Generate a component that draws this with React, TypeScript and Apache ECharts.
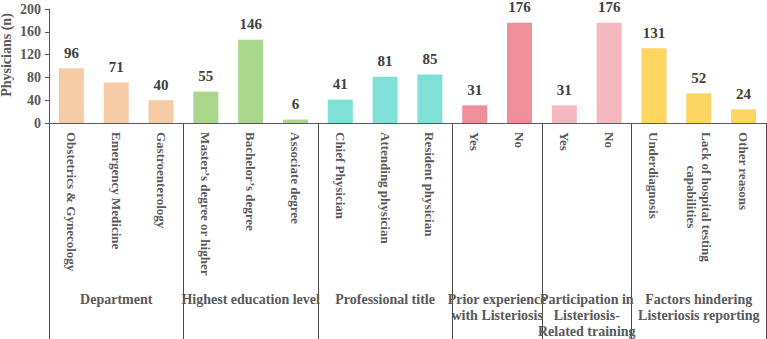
import React, { useEffect, useRef } from "react";
import * as echarts from "echarts";

const categories = [
  "Obstetrics & Gynecology",
  "Emergency Medicine",
  "Gastroenterology",
  "Master’s degree or higher",
  "Bachelor’s degree",
  "Associate degree",
  "Chief Physician",
  "Attending physician",
  "Resident physician",
  "Yes",
  "No",
  "Yes",
  "No",
  "Underdiagnosis",
  "Lack of hospital testing\ncapabilities",
  "Other reasons",
];
const values = [96, 71, 40, 55, 146, 6, 41, 81, 85, 31, 176, 31, 176, 131, 52, 24];
const groupNames = [
  "Department",
  "Highest education level",
  "Professional title",
  "Prior experience\nwith Listeriosis",
  "Participation in\nListeriosis-\nRelated training",
  "Factors hindering\nListeriosis reporting",
];
const groupSizes = [3, 3, 3, 2, 2, 3];
const groupColors = ["#F8CBA7", "#A9D78B", "#7FE0D6", "#EF8F9A", "#F4B8C1", "#FCD660"];
const yTicks = { min: 0, max: 200, interval: 40 };

const FONT = "'Times New Roman', 'Liberation Serif', serif";
const TEXT = "#595959";

export default function App() {
  const ref = useRef<HTMLDivElement>(null);
  useEffect(() => {
    if (!ref.current) return;
    const chart = echarts.init(ref.current, undefined, { renderer: "svg" });

    const boundaries: number[] = [];
    const centers: number[] = [];
    let acc = 0;
    const itemColors: string[] = [];
    groupSizes.forEach((n, gi) => {
      boundaries.push(acc);
      centers.push(acc + n / 2);
      for (let k = 0; k < n; k++) itemColors.push(groupColors[gi]);
      acc += n;
    });

    chart.setOption({
      animation: false,
      grid: {
        left: 49,
        right: 1,
        top: 9,
        bottom: 216,
        containLabel: false,
        outerBoundsMode: "none",
      },
      xAxis: [
        {
          type: "category",
          data: categories,
          axisLine: { show: true, lineStyle: { color: TEXT, width: 1 } },
          axisTick: {
            show: true,
            length: 216,
            lineStyle: { color: "#4a4a4a", width: 1 },
            interval: (index: number) => boundaries.includes(index),
          },
          axisLabel: {
            interval: 0,
            rotate: -90,
            margin: 9,
            formatter: (v: string) =>
              v
                .split("\n")
                .map((l) => `{c|${l}}`)
                .join("\n"),
            rich: {
              c: {
                align: "center",
                fontFamily: FONT,
                fontSize: 13,
                fontWeight: "bold",
                color: TEXT,
                lineHeight: 15,
              },
            },
          },
        },
        {
          type: "value",
          min: 0,
          max: categories.length,
          interval: 0.5,
          position: "bottom",
          axisLine: { show: false },
          axisTick: { show: false },
          splitLine: { show: false },
          axisLabel: {
            margin: 168,
            fontFamily: FONT,
            fontSize: 14,
            fontWeight: "bold",
            color: TEXT,
            lineHeight: 16,
            showMinLabel: true,
            showMaxLabel: true,
            formatter: (v: number) => {
              const i = centers.findIndex((c) => Math.abs(c - v) < 1e-6);
              return i >= 0 ? groupNames[i] : "";
            },
          },
        },
      ],
      yAxis: {
        type: "value",
        min: yTicks.min,
        max: yTicks.max,
        interval: yTicks.interval,
        name: "Physicians (n)",
        nameLocation: "middle",
        nameGap: 36,
        nameMoveOverlap: false,
        nameTextStyle: {
          fontFamily: FONT,
          fontSize: 14,
          fontWeight: "bold",
          color: TEXT,
          padding: [0, 0, 0, 22],
        },
        axisLine: { show: true, lineStyle: { color: TEXT, width: 1 } },
        axisTick: { show: true, length: 4, lineStyle: { color: TEXT } },
        splitLine: { show: false },
        axisLabel: {
          fontFamily: FONT,
          fontSize: 14,
          fontWeight: "bold",
          color: TEXT,
          margin: 8,
        },
      },
      series: [
        {
          type: "bar",
          xAxisIndex: 0,
          barWidth: 25,
          data: values.map((v, i) => ({ value: v, itemStyle: { color: itemColors[i] } })),
          label: {
            show: true,
            position: "top",
            distance: 8,
            fontFamily: FONT,
            fontSize: 15,
            fontWeight: "bold",
            color: "#404040",
          },
        },
      ],
    });
    return () => chart.dispose();
  }, []);
  return (
    <div
      ref={ref}
      style={{ position: "fixed", left: 0, top: 0, width: 767, height: 339, background: "#fff" }}
    />
  );
}
